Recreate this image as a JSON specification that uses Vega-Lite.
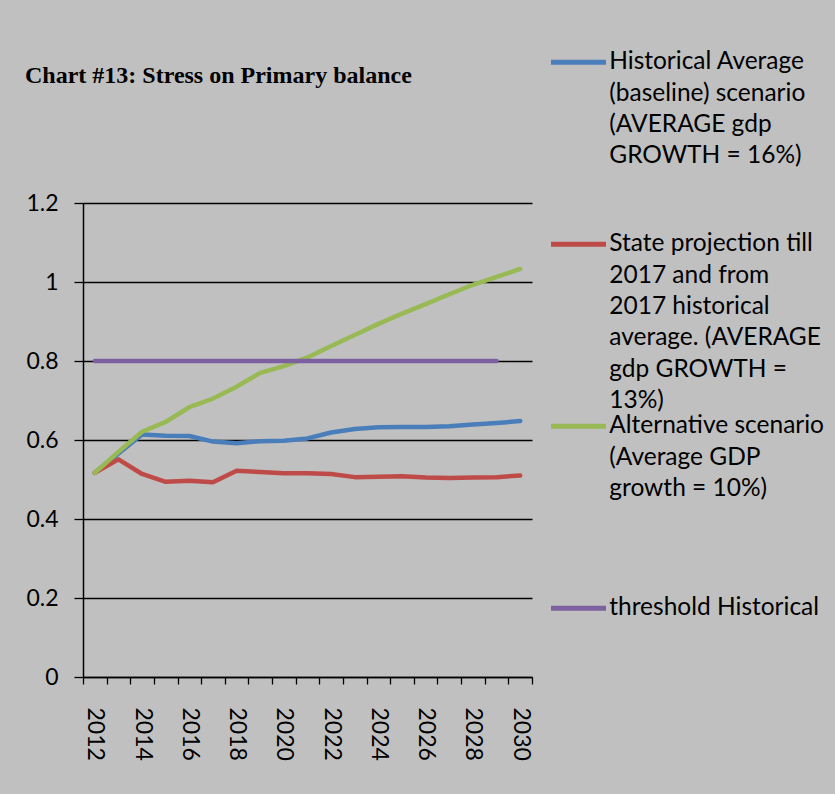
{
  "$schema": "https://vega.github.io/schema/vega-lite/v6.json",
  "width": 449,
  "height": 474,
  "autosize": {"type": "none"},
  "padding": {"left": 83, "top": 203, "right": 303, "bottom": 117},
  "background": "#c0c0c0",
  "title": {
    "text": "Chart #13: Stress on Primary balance",
    "anchor": "start",
    "frame": "group",
    "dx": -58,
    "offset": -57,
    "baseline": "alphabetic",
    "font": "Liberation Serif",
    "fontSize": 24,
    "fontWeight": "bold",
    "color": "#000000"
  },
  "data": {
    "values": [
      {"year": 2012, "series": "Historical Average", "value": 0.517},
      {"year": 2013, "series": "Historical Average", "value": 0.566},
      {"year": 2014, "series": "Historical Average", "value": 0.614},
      {"year": 2015, "series": "Historical Average", "value": 0.611},
      {"year": 2016, "series": "Historical Average", "value": 0.610},
      {"year": 2017, "series": "Historical Average", "value": 0.596},
      {"year": 2018, "series": "Historical Average", "value": 0.592},
      {"year": 2019, "series": "Historical Average", "value": 0.597},
      {"year": 2020, "series": "Historical Average", "value": 0.598},
      {"year": 2021, "series": "Historical Average", "value": 0.604},
      {"year": 2022, "series": "Historical Average", "value": 0.619},
      {"year": 2023, "series": "Historical Average", "value": 0.628},
      {"year": 2024, "series": "Historical Average", "value": 0.632},
      {"year": 2025, "series": "Historical Average", "value": 0.633},
      {"year": 2026, "series": "Historical Average", "value": 0.633},
      {"year": 2027, "series": "Historical Average", "value": 0.635},
      {"year": 2028, "series": "Historical Average", "value": 0.639},
      {"year": 2029, "series": "Historical Average", "value": 0.643},
      {"year": 2030, "series": "Historical Average", "value": 0.648},
      {"year": 2012, "series": "State projection till 2017", "value": 0.517},
      {"year": 2013, "series": "State projection till 2017", "value": 0.551},
      {"year": 2014, "series": "State projection till 2017", "value": 0.514},
      {"year": 2015, "series": "State projection till 2017", "value": 0.494},
      {"year": 2016, "series": "State projection till 2017", "value": 0.497},
      {"year": 2017, "series": "State projection till 2017", "value": 0.493},
      {"year": 2018, "series": "State projection till 2017", "value": 0.522},
      {"year": 2019, "series": "State projection till 2017", "value": 0.519},
      {"year": 2020, "series": "State projection till 2017", "value": 0.516},
      {"year": 2021, "series": "State projection till 2017", "value": 0.516},
      {"year": 2022, "series": "State projection till 2017", "value": 0.514},
      {"year": 2023, "series": "State projection till 2017", "value": 0.506},
      {"year": 2024, "series": "State projection till 2017", "value": 0.507},
      {"year": 2025, "series": "State projection till 2017", "value": 0.508},
      {"year": 2026, "series": "State projection till 2017", "value": 0.505},
      {"year": 2027, "series": "State projection till 2017", "value": 0.504},
      {"year": 2028, "series": "State projection till 2017", "value": 0.505},
      {"year": 2029, "series": "State projection till 2017", "value": 0.506},
      {"year": 2030, "series": "State projection till 2017", "value": 0.510},
      {"year": 2012, "series": "Alternative scenario", "value": 0.517},
      {"year": 2013, "series": "Alternative scenario", "value": 0.570},
      {"year": 2014, "series": "Alternative scenario", "value": 0.621},
      {"year": 2015, "series": "Alternative scenario", "value": 0.646},
      {"year": 2016, "series": "Alternative scenario", "value": 0.683},
      {"year": 2017, "series": "Alternative scenario", "value": 0.705},
      {"year": 2018, "series": "Alternative scenario", "value": 0.735},
      {"year": 2019, "series": "Alternative scenario", "value": 0.770},
      {"year": 2020, "series": "Alternative scenario", "value": 0.787},
      {"year": 2021, "series": "Alternative scenario", "value": 0.809},
      {"year": 2022, "series": "Alternative scenario", "value": 0.838},
      {"year": 2023, "series": "Alternative scenario", "value": 0.866},
      {"year": 2024, "series": "Alternative scenario", "value": 0.894},
      {"year": 2025, "series": "Alternative scenario", "value": 0.920},
      {"year": 2026, "series": "Alternative scenario", "value": 0.944},
      {"year": 2027, "series": "Alternative scenario", "value": 0.969},
      {"year": 2028, "series": "Alternative scenario", "value": 0.993},
      {"year": 2029, "series": "Alternative scenario", "value": 1.013},
      {"year": 2030, "series": "Alternative scenario", "value": 1.033},
      {"year": 2012, "series": "threshold Historical", "value": 0.8},
      {"year": 2013, "series": "threshold Historical", "value": 0.8},
      {"year": 2014, "series": "threshold Historical", "value": 0.8},
      {"year": 2015, "series": "threshold Historical", "value": 0.8},
      {"year": 2016, "series": "threshold Historical", "value": 0.8},
      {"year": 2017, "series": "threshold Historical", "value": 0.8},
      {"year": 2018, "series": "threshold Historical", "value": 0.8},
      {"year": 2019, "series": "threshold Historical", "value": 0.8},
      {"year": 2020, "series": "threshold Historical", "value": 0.8},
      {"year": 2021, "series": "threshold Historical", "value": 0.8},
      {"year": 2022, "series": "threshold Historical", "value": 0.8},
      {"year": 2023, "series": "threshold Historical", "value": 0.8},
      {"year": 2024, "series": "threshold Historical", "value": 0.8},
      {"year": 2025, "series": "threshold Historical", "value": 0.8},
      {"year": 2026, "series": "threshold Historical", "value": 0.8},
      {"year": 2027, "series": "threshold Historical", "value": 0.8},
      {"year": 2028, "series": "threshold Historical", "value": 0.8},
      {"year": 2029, "series": "threshold Historical", "value": 0.8}
    ]
  },
  "encoding": {
    "y": {
      "field": "value",
      "type": "quantitative",
      "scale": {"domain": [0, 1.2], "nice": false, "zero": true},
      "axis": {
        "title": null,
        "values": [0, 0.2, 0.4, 0.6, 0.8, 1, 1.2],
        "format": "~g",
        "grid": true,
        "gridColor": "#000000",
        "gridWidth": 1.3,
        "gridOpacity": 1,
        "domain": true,
        "domainColor": "#000000",
        "domainWidth": 1.5,
        "ticks": true,
        "tickColor": "#000000",
        "tickSize": 9,
        "tickWidth": 1.3,
        "labelFont": "Lato",
        "labelFontSize": 23,
        "labelColor": "#000000",
        "labelPadding": 16
      }
    },
    "color": {
      "field": "series",
      "type": "nominal",
      "scale": {
        "domain": ["Historical Average", "State projection till 2017", "Alternative scenario", "threshold Historical"],
        "range": ["#4A7EBB", "#BE4B48", "#98B954", "#7D60A0"]
      },
      "legend": {
        "title": null,
        "orient": "none",
        "direction": "vertical",
        "legendX": 468,
        "legendY": -153,
        "padding": 0,
        "symbolType": "M -5.5 0 L 5.5 0",
        "symbolSize": 100,
        "symbolStrokeWidth": 5,
        "symbolOffset": 15.25,
        "labelFont": "Lato",
        "labelFontSize": 24.5,
        "labelColor": "#000000",
        "labelLimit": 600,
        "labelOffset": 18.5,
        "labelBaseline": "middle",
        "rowPadding": 0,
        "labelExpr": "datum.value == 'Historical Average' ? ['Historical Average','(baseline) scenario','(AVERAGE gdp','GROWTH = 16%)','',''] : datum.value == 'State projection till 2017' ? ['State projection till','2017 and from','2017 historical','average. (AVERAGE','gdp GROWTH =','13%)'] : datum.value == 'Alternative scenario' ? ['Alternative scenario','(Average GDP','growth = 10%)','','',''] : ['threshold Historical','','','','','']"
      }
    }
  },
  "layer": [
    {
      "transform": [{"filter": "datum.series != 'threshold Historical'"}],
      "mark": {"type": "line", "strokeWidth": 4.5, "strokeCap": "round", "strokeJoin": "round"},
      "encoding": {
        "x": {
          "field": "year",
          "type": "quantitative",
          "scale": {"domain": [2011.5, 2030.5], "nice": false, "zero": false},
          "axis": {
            "orient": "bottom",
            "title": null,
            "values": [2011.5, 2012.5, 2013.5, 2014.5, 2015.5, 2016.5, 2017.5, 2018.5, 2019.5, 2020.5, 2021.5, 2022.5, 2023.5, 2024.5, 2025.5, 2026.5, 2027.5, 2028.5, 2029.5, 2030.5],
            "labels": false,
            "grid": false,
            "domain": true,
            "domainColor": "#000000",
            "domainWidth": 1.5,
            "ticks": true,
            "tickColor": "#000000",
            "tickSize": 7,
            "tickWidth": 1.3
          }
        }
      }
    },
    {
      "transform": [{"filter": "datum.series == 'threshold Historical'"}],
      "mark": {"type": "line", "strokeWidth": 4.5, "strokeCap": "round", "strokeJoin": "round"},
      "encoding": {
        "x": {
          "field": "year",
          "type": "quantitative",
          "scale": {"domain": [2011.5, 2030.5], "nice": false, "zero": false},
          "axis": {
            "orient": "bottom",
            "title": null,
            "values": [2012, 2014, 2016, 2018, 2020, 2022, 2024, 2026, 2028, 2030],
            "format": "d",
            "grid": false,
            "domain": false,
            "ticks": false,
            "labelAngle": 90,
            "labelOverlap": false,
            "labelFont": "Lato",
            "labelFontSize": 23,
            "labelColor": "#000000",
            "labelPadding": 30
          }
        }
      }
    }
  ],
  "resolve": {"axis": {"x": "independent"}},
  "config": {
    "view": {"stroke": null},
    "style": {"guide-label": {"lineHeight": 31.4}}
  }
}
